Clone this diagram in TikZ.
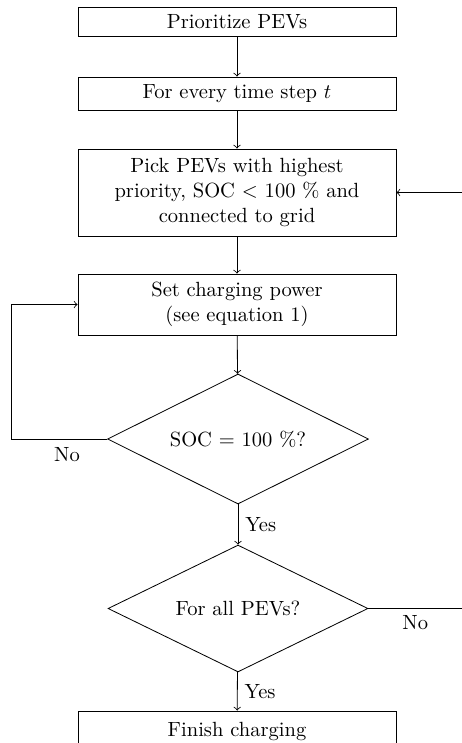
\documentclass[tikz,border=0pt]{standalone}
\usetikzlibrary{shapes.geometric}
\begin{document}
\begin{tikzpicture}[x=0.487pt,y=-0.487pt,
  stepbox/.style={draw, rectangle, minimum width=154.9pt, align=center},
  decision/.style={draw, diamond, aspect=2, align=center, inner sep=1pt},
  flow/.style={->},
  lbl/.style={inner sep=0pt}]
\useasboundingbox (0,0) rectangle (462,743);
\clip (0,0) rectangle (462,743);
\node[stepbox, minimum height=14.1pt] (b1) at (237,21.5) {Prioritize PEVs};
\node[stepbox, minimum height=16.1pt] (b2) at (237,93.5) {For every time step $t$};
\node[stepbox, minimum height=42.4pt] (b3) at (237,192.5) {Pick PEVs with highest\\priority, SOC $<$ 100 \% and\\connected to grid};
\node[stepbox, minimum height=29.7pt] (b4) at (237,304.5) {Set charging power\\(see equation 1)};
\node[decision, minimum width=127.1pt, minimum height=63.3pt] (d1) at (238,439) {SOC $=$ 100 \%?};
\node[decision, minimum width=126.6pt, minimum height=61.8pt] (d2) at (238,608.5) {For all PEVs?};
\node[stepbox, minimum height=19.5pt] (b5) at (237,731) {Finish charging};
\coordinate (rin) at (462,192.5);
\coordinate (rout) at (462,608.5);
\coordinate (lc) at (11,439);
\draw[flow] (b1) -- (b2);
\draw[flow] (b2) -- (b3);
\draw[flow] (b3) -- (b4);
\draw[flow] (b4) -- (d1);
\draw[flow] (d1) -- node[right] {Yes} (d2);
\draw[flow] (d2) -- node[right] {Yes} (b5);
\draw[flow] (d1.west) -- (lc) |- (b4.west);
\node (nol) at (67,455) {No};
\draw[flow] (rin) -- (b3.east);
\draw (d2.east) -- node[below] (nor) {No} (rout);
\end{tikzpicture}
\end{document}
